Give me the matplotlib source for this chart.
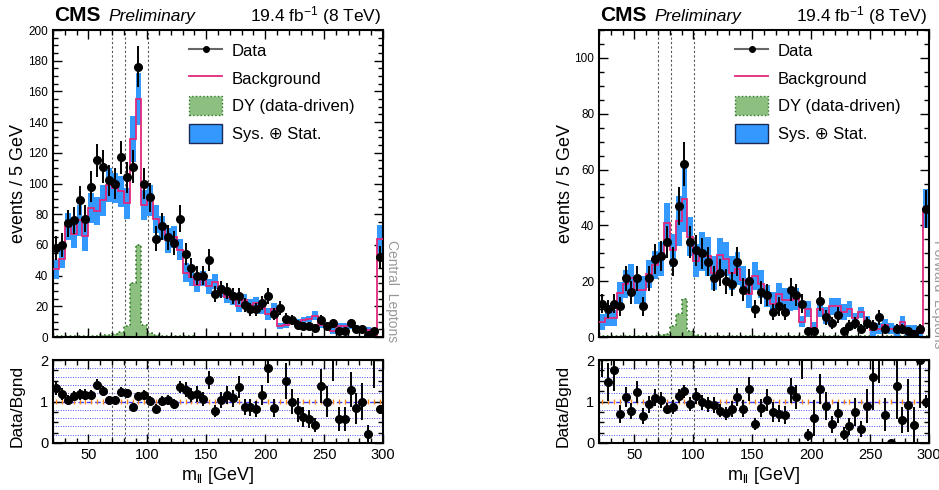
import numpy as np
import matplotlib
matplotlib.use('Agg')
import matplotlib.pyplot as plt
from matplotlib.ticker import MultipleLocator
from matplotlib.lines import Line2D
from matplotlib.patches import Patch

plt.rcParams['font.family'] = ['Liberation Sans', 'DejaVu Sans']
plt.rcParams['mathtext.fontset'] = 'custom'
plt.rcParams['mathtext.rm'] = 'Liberation Sans'
plt.rcParams['mathtext.it'] = 'Liberation Sans:italic'

W, H = 939, 490

edges = np.arange(20, 301, 5)
centers = edges[:-1] + 2.5
z_lines = [70, 81, 101]

# central leptons
central_data = [58, 60, 74, 76, 89, 77, 98, 115, 111, 102, 100, 117, 104, 111, 176, 100,
                91, 64, 72, 65, 61, 77, 54, 45, 40, 40, 50, 28, 31, 30, 27, 27, 21, 18,
                18, 22, 27, 15, 19, 12, 11, 8, 7, 7, 6, 11, 7, 9, 4, 4, 9, 5, 5, 1, 4, 52]
central_bkg = [44, 51, 72, 67, 76, 66, 84, 82, 89, 99, 97, 95, 87, 129, 155, 86,
               89, 77, 71, 63, 65, 57, 42, 39, 34, 38, 33, 36, 30, 26, 25, 20, 24, 21,
               22, 19, 15, 18, 7, 8, 11, 10, 11, 12, 14, 8, 7, 4, 7, 7, 7, 6, 5, 4.5, 1.5, 64]
central_err = [6, 6, 9, 9, 10, 10, 10, 9, 10, 11, 10, 10, 10, 15, 17, 10,
               10, 9, 8, 8, 7, 7, 6, 6, 5, 5, 5, 5, 4, 4, 4, 4, 4, 4,
               4, 4, 4, 4, 2, 2, 2, 2, 2, 2, 3, 2, 2, 2, 2, 2, 2, 2, 2, 2, 2, 9]
central_dy = [0.8, 0.8, 0.8, 0.8, 0.8, 0.8, 0.8, 0.8, 1, 1.5, 2, 3.5, 7, 35, 60, 8,
              2.5, 1, 0.6, 0.5, 0.5, 0.4, 0.4, 0.4, 0.3, 0.3, 0.3, 0.3, 0.3, 0.3, 0.3, 0.3, 0.3, 0.3,
              0.3, 0.3, 0.3, 0.3, 0.3, 0.3, 0.3, 0.3, 0.3, 0.3, 0.3, 0.3, 0.3, 0.3, 0.3, 0.3, 0.3, 0.3, 0.3, 0.3, 0.3, 0.3]

# forward leptons
forward_data = [12, 10, 12, 11, 21, 16, 21, 11, 21, 28, 29, 34, 27, 47, 62, 34,
                31, 30, 27, 21, 23, 20, 19, 27, 17, 20, 10, 16, 15, 9, 11, 9, 17, 15,
                12, 2, 2, 13, 7, 5, 8, 2, 4, 5, 3, 5, 4, 7, 3, 0, 3, 3, 2, 1, 3, 46]
forward_bkg = [5.4, 6.8, 6.8, 15.7, 19, 21, 17, 17, 22.6, 25.7, 28, 41, 31, 41.6, 49.6, 36,
               27.4, 30.6, 29, 23, 29.5, 28, 23, 24.5, 20.5, 15.5, 22, 19, 14.6, 12, 15.5, 13.4, 13.4, 13.5,
               5.5, 10, 3.3, 10, 7.8, 11, 11, 9, 10, 6.7, 8.8, 5.6, 2.5, 3, 4.4, 3, 2.2, 5.5, 2.2, 2.3, 1.5, 46]
forward_err = [3, 3, 3, 4, 5, 5, 5, 5, 5, 5, 6, 7, 6, 9, 12, 7,
               6, 7, 7, 6, 6, 6, 6, 6, 5, 5, 5, 5, 4, 4, 4, 4, 4, 4,
               2, 3, 2, 3, 3, 3, 3, 3, 3, 2, 2, 2, 2, 2, 2, 2, 2, 2, 2, 2, 2, 7]
forward_dy = [0.3, 0.3, 0.3, 0.3, 0.3, 0.3, 0.3, 0.3, 0.4, 0.5, 0.6, 1, 4, 8.3, 13.7, 2.1,
              0.8, 0.4, 0.3, 0.3, 0.3, 0.3, 0.3, 0.3, 0.3, 0.3, 0.3, 0.3, 0.3, 0.3, 0.3, 0.3, 0.3, 0.3,
              0.3, 0.3, 0.3, 0.3, 0.3, 0.3, 0.3, 0.3, 0.3, 0.3, 0.3, 0.3, 0.3, 0.3, 0.3, 0.3, 0.3, 0.3, 0.3, 0.3, 0.3, 0.3]

PINK = '#e0287d'
BLUE = '#3399ff'
GREEN = '#8cbf80'
DGREEN = '#2f7a25'


def px(x, y):
    return x / W, 1 - y / H


def style_ticks(ax, xmin, ymaj, ymin, labelsize):
    ax.tick_params(which='both', direction='in', top=True, right=True, width=1.0,
                   labelsize=labelsize)
    ax.tick_params(which='major', length=6.5)
    ax.tick_params(which='minor', length=3.3)
    ax.xaxis.set_major_locator(MultipleLocator(50))
    ax.xaxis.set_minor_locator(MultipleLocator(xmin))
    ax.yaxis.set_major_locator(MultipleLocator(ymaj))
    ax.yaxis.set_minor_locator(MultipleLocator(ymin))
    for s in ax.spines.values():
        s.set_linewidth(1.5)


def draw_panel(x0, data, bkg, err, dy, ymax, side_text):
    data = np.array(data, dtype=float)
    bkg = np.array(bkg, dtype=float)
    err = np.array(err, dtype=float)
    dy = np.array(dy, dtype=float)

    l, b = px(x0, 337)
    ax = fig.add_axes([l, b, 330 / W, 307 / H])
    l2, b2 = px(x0, 443)
    rx = fig.add_axes([l2, b2, 330 / W, 83 / H])

    # main panel
    ax.stairs(dy, edges, fill=True, facecolor=GREEN, edgecolor=DGREEN,
              linestyle=':', linewidth=1.2, zorder=1)
    ax.bar(centers, 2 * err, bottom=bkg - err, width=5, color=BLUE, lw=0, zorder=2)
    ax.stairs(bkg, edges, color=PINK, linewidth=1.3, baseline=None, zorder=3)
    ok = data > 0
    ax.errorbar(centers[ok], data[ok], yerr=np.sqrt(data[ok]), fmt='o', color='black',
                ms=5.5, elinewidth=1.4, capsize=0, zorder=5)
    for z in z_lines:
        ax.axvline(z, color='#555555', ls=(0, (2, 2)), lw=0.8, zorder=0)
    ax.set_xlim(20, 300)
    ax.set_ylim(0, ymax)
    style_ticks(ax, 10, 20, 5, 8.5)
    ax.tick_params(labelbottom=False)

    handles = [
        Line2D([], [], color='#666666', lw=1.5, marker='o', ms=4, mfc='black', mec='black'),
        Line2D([], [], color=PINK, lw=1.3),
        Patch(facecolor=GREEN, edgecolor=DGREEN, linestyle=':', lw=1.0),
        Patch(facecolor=BLUE, edgecolor='#1b2a55', lw=1.0),
    ]
    labels = ['Data', 'Background', 'DY (data-driven)', 'Sys. \u2295 Stat.']
    lx, ly = px(x0 + 136, 41)
    ax.legend(handles, labels, loc='upper left', bbox_to_anchor=(lx, ly),
              bbox_transform=fig.transFigure, frameon=False, fontsize=12,
              handlelength=2.0, handleheight=1.4, handletextpad=0.55,
              labelspacing=0.5, borderpad=0, borderaxespad=0)

    # ratio panel
    for g in np.arange(0.2, 1.81, 0.2):
        if abs(g - 1) > 1e-6:
            rx.axhline(g, color='#4d4dff', ls=(0, (1, 1.5)), lw=0.7, zorder=0)
    rx.axhline(1, color='#3a3aff', ls=(0, (4, 2)), lw=1.0, zorder=1)
    rx.errorbar(centers, np.ones_like(centers), yerr=0.05, fmt='none',
                ecolor='#ff8c1a', elinewidth=1.0, zorder=2)
    for z in z_lines:
        rx.axvline(z, color='#555555', ls=(0, (2, 2)), lw=0.8, zorder=0)
    ratio = data / bkg
    rerr = np.sqrt(data) / bkg
    rx.errorbar(centers, ratio, yerr=rerr, fmt='o', color='black', ms=5.5,
                elinewidth=1.4, capsize=0, zorder=5)
    rx.set_xlim(20, 300)
    rx.set_ylim(0, 2)
    style_ticks(rx, 10, 1, 0.25, 10.5)

    # texts
    fig.text(*px(x0 + 1, 21), 'CMS', fontsize=15, fontweight='bold', ha='left', va='baseline')
    fig.text(*px(x0 + 55, 21), 'Preliminary', fontsize=12.5, style='italic',
             ha='left', va='baseline')
    fig.text(*px(x0 + 328, 21), r'19.4 fb$^{-1}$ (8 TeV)', fontsize=12.5,
             ha='right', va='baseline')
    fig.text(*px(x0 - 34, 183), 'events / 5 GeV', fontsize=13, rotation=90,
             ha='center', va='center')
    fig.text(*px(x0 - 36, 406), 'Data/Bgnd', fontsize=12.5, rotation=90,
             ha='center', va='center')
    fig.text(*px(x0 + 165, 475), r'm$_{\mathregular{ll}}$ [GeV]', fontsize=13,
             ha='center', va='center')
    fig.text(*px(x0 + 339, 240), side_text, fontsize=10, color='#999999',
             rotation=-90, ha='center', va='top')
    return ax, rx


fig = plt.figure(figsize=(W / 100, H / 100), dpi=100)
draw_panel(53, central_data, central_bkg, central_err, central_dy, 200, 'Central  Leptons')
draw_panel(599, forward_data, forward_bkg, forward_err, forward_dy, 110, 'Forward  Leptons')
fig.savefig('out.png', dpi=100)
